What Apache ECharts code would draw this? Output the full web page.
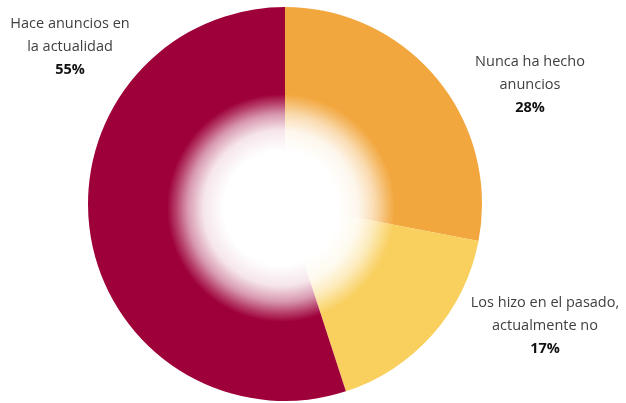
<!DOCTYPE html>
<html>
<head>
<meta charset="utf-8">
<style>
  html, body { margin: 0; padding: 0; background: #ffffff; }
  #chart { width: 626px; height: 403px; }
</style>
<script src="https://cdn.jsdelivr.net/npm/echarts@6/dist/echarts.min.js"></script>
</head>
<body>
<div id="chart"></div>
<script>
// Survey shares: advertising status
const categories = ['Nunca ha hecho\nanuncios', 'Los hizo en el pasado,\nactualmente no', 'Hace anuncios en\nla actualidad'];
const values = [28, 17, 55];
const colors = ['#f2a73e', '#f9cf5e', '#9e0039'];

// Label anchor points (px) for each slice
const labelSpots = [[530, 50], [545, 291], [70, 12]];

const chart = echarts.init(document.getElementById('chart'), null, { renderer: 'canvas' });

chart.setOption({
  animation: false,
  series: [
    {
      type: 'pie',
      center: [285, 204],
      radius: [0, 197],
      startAngle: 90,
      clockwise: true,
      silent: true,
      data: categories.map((name, i) => ({
        name: name,
        value: values[i],
        itemStyle: { color: colors[i] }
      })),
      label: {
        show: true,
        position: 'outside',
        overflow: 'none',
        formatter: p => p.name + '\n{pct|' + p.value + '%}',
        fontFamily: 'Open Sans',
        fontSize: 14.5,
        color: '#3f3f3f',
        lineHeight: 23,
        align: 'center',
        rich: {
          pct: {
            fontFamily: 'Open Sans',
            fontWeight: 'bold',
            fontSize: 14.5,
            color: '#111111',
            lineHeight: 23
          }
        }
      },
      labelLine: { show: false },
      labelLayout: params => ({
        x: labelSpots[params.dataIndex][0],
        y: labelSpots[params.dataIndex][1],
        align: 'center',
        verticalAlign: 'top',
        hideOverlap: false
      })
    },
    {
      // soft white glow in the middle of the pie
      type: 'pie',
      center: [281, 208],
      radius: [0, 114],
      silent: true,
      label: { show: false },
      labelLine: { show: false },
      data: [{
        value: 1,
        itemStyle: {
          color: {
            type: 'radial',
            x: 0.5, y: 0.5, r: 0.5,
            colorStops: [
              { offset: 0, color: 'rgba(255,255,255,1)' },
              { offset: 0.5, color: 'rgba(255,255,255,1)' },
              { offset: 0.68, color: 'rgba(255,255,255,0.9)' },
              { offset: 0.82, color: 'rgba(255,255,255,0.6)' },
              { offset: 0.93, color: 'rgba(255,255,255,0.22)' },
              { offset: 1, color: 'rgba(255,255,255,0)' }
            ]
          }
        }
      }]
    }
  ]
});
</script>
</body>
</html>
